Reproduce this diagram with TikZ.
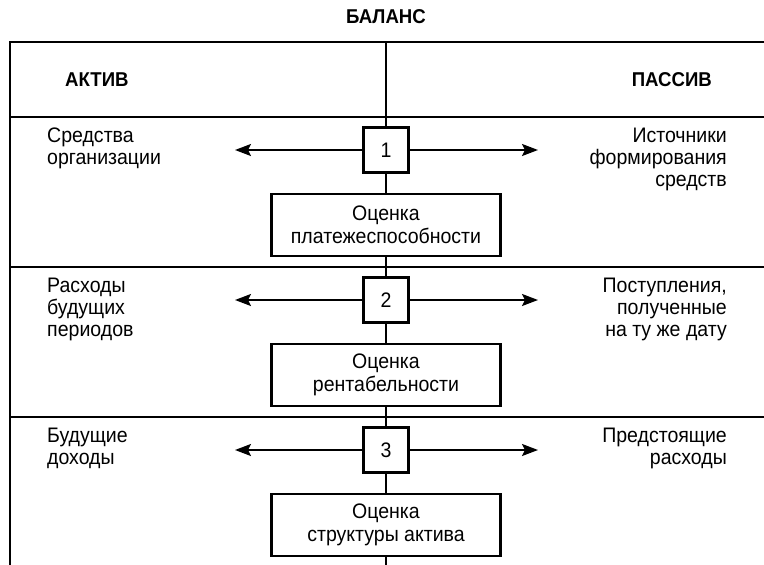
\documentclass[tikz,border=0pt]{standalone}
\usepackage{fontspec}
\setmainfont{Liberation Sans}[FakeStretch=0.93]
\usetikzlibrary{arrows.meta}
\begin{document}
\begin{tikzpicture}[x=1pt,y=-1pt,
  frame/.style={line width=2.3pt},
  link/.style={line width=2.1pt},
  arr/.style={line width=2.1pt,-{Stealth[length=16pt,width=12pt,inset=3pt]}},
  numbox/.style={draw,line width=2.1pt,fill=white,minimum width=45pt,minimum height=45pt,inner sep=0pt,font=\fontsize{21}{22}\selectfont},
  evalbox/.style={draw,line width=2.1pt,fill=white,minimum width=229pt,minimum height=62pt,inner sep=0pt,align=center,font=\fontsize{21}{23}\selectfont},
  lefttext/.style={anchor=north west,inner sep=0pt,align=left,font=\fontsize{21}{22}\selectfont},
  righttext/.style={anchor=north east,inner sep=0pt,align=right,font=\fontsize{21}{22}\selectfont},
  head/.style={inner sep=0pt,font=\fontsize{20}{22}\bfseries\selectfont}]
\useasboundingbox (0,0) rectangle (764,565);

% heading and table frame
\node[head] (title) at (386,17) {БАЛАНС};
\draw[frame] (764,42) -- (10,42) -- (10,565);
\draw[frame] (10,117) -- (764,117);
\draw[frame] (10,267) -- (764,267);
\draw[frame] (10,417) -- (764,417);
\node[head,anchor=west] (activ) at (65,80) {АКТИВ};
\node[head,anchor=east] (passiv) at (712,80) {ПАССИВ};

% central column
\coordinate (top) at (386,42);
\coordinate (bottom) at (386,565);
\node[numbox] (b1) at (386,150) {1};
\node[evalbox] (e1) at (386,225) {Оценка\\платежеспособности};
\node[numbox] (b2) at (386,300) {2};
\node[evalbox] (e2) at (386,375) {Оценка\\рентабельности};
\node[numbox] (b3) at (386,450) {3};
\node[evalbox] (e3) at (386,525) {Оценка\\структуры актива};

\draw[link] (top) -- (b1.north);
\draw[link] (b1.south) -- (e1.north);
\draw[link] (e1.south) -- (b2.north);
\draw[link] (b2.south) -- (e2.north);
\draw[link] (e2.south) -- (b3.north);
\draw[link] (b3.south) -- (e3.north);
\draw[link] (e3.south) -- (bottom);

% side arrows
\coordinate (la1) at (235,150); \coordinate (ra1) at (538,150);
\coordinate (la2) at (235,300); \coordinate (ra2) at (538,300);
\coordinate (la3) at (235,450); \coordinate (ra3) at (538,450);
\draw[arr] (b1.west) -- (la1);
\draw[arr] (b1.east) -- (ra1);
\draw[arr] (b2.west) -- (la2);
\draw[arr] (b2.east) -- (ra2);
\draw[arr] (b3.west) -- (la3);
\draw[arr] (b3.east) -- (ra3);

% row labels
\node[lefttext] (l1) at (47,128) {Средства\\организации};
\node[righttext] (r1) at (727,128) {Источники\\формирования\\средств};
\node[lefttext] (l2) at (47,278) {Расходы\\будущих\\периодов};
\node[righttext] (r2) at (727,278) {Поступления,\\полученные\\на ту же дату};
\node[lefttext] (l3) at (47,428) {Будущие\\доходы};
\node[righttext] (r3) at (727,428) {Предстоящие\\расходы};
\end{tikzpicture}
\end{document}
